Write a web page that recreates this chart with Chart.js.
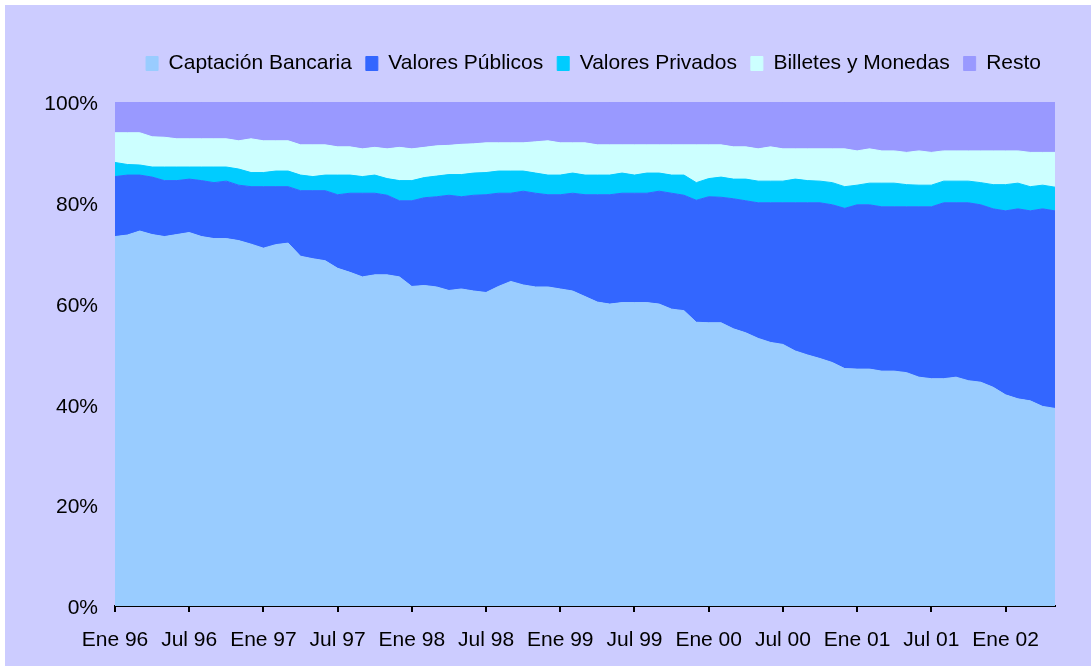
<!DOCTYPE html>
<html>
<head>
<meta charset="utf-8">
<script src="https://cdn.jsdelivr.net/npm/chart.js@4.4.1/dist/chart.umd.min.js"></script>
<style>
  html, body { margin: 0; padding: 0; background: #ffffff; }
  #wrap { position: absolute; left: 5px; top: 5px; width: 1086px; height: 661px; background: #CCCCFF; }
  canvas { display: block; }
</style>
</head>
<body>
<div id="wrap"><canvas id="c" width="1086" height="661"></canvas></div>
<script>
// ---- Data (shares in %, monthly Ene 96 .. May 02) ----
const monthNames = ['Ene','Feb','Mar','Abr','May','Jun','Jul','Ago','Sep','Oct','Nov','Dic'];
const years = ['96','97','98','99','00','01','02'];
const tickLabels = ['Ene 96','Jul 96','Ene 97','Jul 97','Ene 98','Jul 98','Ene 99','Jul 99','Ene 00','Jul 00','Ene 01','Jul 01','Ene 02'];
const seriesNames = ['Captación Bancaria','Valores Públicos','Valores Privados','Billetes y Monedas','Resto'];

const captacion = [73.3,73.6,74.4,73.7,73.3,73.7,74.1,73.3,72.9,72.9,
  72.5,71.8,71.0,71.7,72.0,69.4,68.9,68.5,67.0,66.2,
  65.3,65.7,65.7,65.3,63.4,63.6,63.3,62.6,62.9,62.5,
  62.2,63.4,64.4,63.7,63.3,63.3,62.9,62.5,61.4,60.3,
  59.9,60.2,60.2,60.2,59.9,58.9,58.6,56.3,56.2,56.2,
  55.0,54.2,53.1,52.3,51.9,50.6,49.8,49.1,48.3,47.1,
  47.0,47.0,46.6,46.6,46.3,45.4,45.1,45.1,45.4,44.7,
  44.4,43.4,41.9,41.1,40.7,39.6,39.2];
const publicos = [11.9,11.9,11.1,11.4,11.1,10.7,10.6,11.1,11.1,11.4,
  11.0,11.4,12.2,11.5,11.2,13.0,13.5,13.9,14.6,15.7,
  16.6,16.2,15.8,15.1,17.0,17.4,17.9,18.9,18.3,19.0,
  19.4,18.5,17.5,18.6,18.6,18.3,18.7,19.4,20.2,21.3,
  21.7,21.7,21.7,21.7,22.4,23.0,22.9,24.2,25.0,24.9,
  25.8,26.2,26.9,27.7,28.1,29.4,30.2,30.9,31.3,31.8,
  32.6,32.6,32.6,32.6,32.9,33.8,34.1,34.9,34.6,35.3,
  35.2,35.4,36.5,37.7,37.7,39.2,39.2];
const privados = [2.8,2.1,2.0,2.0,2.7,2.7,2.4,2.7,3.1,2.8,
  3.2,2.8,2.8,3.1,3.1,3.1,2.8,3.1,3.9,3.6,
  3.3,3.6,3.3,4.0,4.0,4.0,4.1,4.1,4.4,4.4,
  4.4,4.4,4.4,4.0,4.0,3.9,3.9,4.0,3.9,3.9,
  3.9,4.0,3.6,4.0,3.6,3.6,4.0,3.5,3.6,4.0,
  3.9,4.3,4.3,4.3,4.3,4.7,4.4,4.3,4.4,4.3,
  3.9,4.3,4.7,4.7,4.4,4.3,4.3,4.3,4.3,4.3,
  4.4,4.8,5.2,5.1,4.8,4.7,4.7];
const billetes = [5.9,6.3,6.4,6.0,5.9,5.6,5.6,5.6,5.6,5.6,
  5.6,6.7,6.3,6.0,6.0,6.0,6.3,6.0,5.6,5.6,
  5.5,5.5,5.9,6.6,6.3,6.0,6.0,5.8,6.0,5.8,
  5.9,5.6,5.6,5.6,6.2,6.8,6.4,6.0,6.4,6.0,
  6.0,5.6,6.0,5.6,5.6,6.0,6.0,7.5,6.7,6.4,
  6.4,6.4,6.4,6.8,6.4,6.0,6.3,6.4,6.7,7.5,
  6.8,6.8,6.4,6.4,6.4,6.8,6.5,6.0,6.0,6.0,
  6.3,6.7,6.7,6.4,6.8,6.5,6.9];
const resto = [6.1,6.1,6.1,6.9,7.0,7.3,7.3,7.3,7.3,7.3,
  7.7,7.3,7.7,7.7,7.7,8.5,8.5,8.5,8.9,8.9,
  9.3,9.0,9.3,9.0,9.3,9.0,8.7,8.6,8.4,8.3,
  8.1,8.1,8.1,8.1,7.9,7.7,8.1,8.1,8.1,8.5,
  8.5,8.5,8.5,8.5,8.5,8.5,8.5,8.5,8.5,8.5,
  8.9,8.9,9.3,8.9,9.3,9.3,9.3,9.3,9.3,9.3,
  9.7,9.3,9.7,9.7,10.0,9.7,10.0,9.7,9.7,9.7,
  9.7,9.7,9.7,9.7,10.0,10.0,10.0];

// categories: monthly labels
const categories = [];
for (const y of years) for (const m of monthNames) categories.push(m + ' ' + y);
categories.length = captacion.length;

const colors = ['#99CCFF','#3366FF','#00CCFF','#CCFFFF','#9999FF'];
const values = [captacion, publicos, privados, billetes, resto];

const FONT = "'Liberation Sans', Arial, sans-serif";

const legendGap = {
  id: 'legendGap',
  afterInit(chart) {
    const lg = chart.legend;
    if (!lg) return;
    const f = lg.fit;
    lg.fit = function() { f.call(this); this.height += 18; };
  }
};

new Chart(document.getElementById('c'), {
  type: 'line',
  data: {
    labels: categories,
    datasets: values.map((v, i) => ({
      label: seriesNames[i],
      data: v,
      backgroundColor: colors[i],
      borderColor: colors[i],
      borderWidth: 1,
      pointRadius: 0,
      pointHoverRadius: 0,
      tension: 0,
      fill: i === 0 ? 'origin' : '-1'
    }))
  },
  options: {
    responsive: false,
    animation: false,
    devicePixelRatio: 1,
    layout: { padding: { left: 0, right: 36, top: 34, bottom: 0 } },
    plugins: {
      tooltip: { enabled: false },
      legend: {
        position: 'top',
        align: 'end',
        labels: {
          color: '#000',
          font: { family: FONT, size: 21 },
          boxWidth: 12,
          boxHeight: 14,
          padding: 14
        }
      }
    },
    scales: {
      x: {
        type: 'category',
        offset: false,
        afterFit(scale) { scale.height = 60; },
        border: { display: true, color: '#000', width: 2 },
        grid: {
          drawOnChartArea: false,
          drawTicks: true,
          tickLength: 6,
          lineWidth: 2,
          color: (ctx) => (ctx.index % 6 === 0 ? '#000' : 'rgba(0,0,0,0)')
        },
        ticks: {
          autoSkip: false,
          maxRotation: 0,
          minRotation: 0,
          color: '#000',
          padding: 16,
          font: { family: FONT, size: 21 },
          callback: function(val, index) { return index % 6 === 0 ? tickLabels[index / 6] : ''; }
        }
      },
      y: {
        stacked: true,
        min: 0,
        max: 100,
        afterFit(scale) { scale.width = 110; },
        border: { display: false },
        grid: { display: false, drawTicks: false, tickLength: 0 },
        ticks: {
          stepSize: 20,
          color: '#000',
          padding: 17,
          labelOffset: 2.5,
          font: { family: FONT, size: 21 },
          callback: (v) => v + '%'
        }
      }
    }
  },
  plugins: [legendGap]
});
</script>
</body>
</html>
